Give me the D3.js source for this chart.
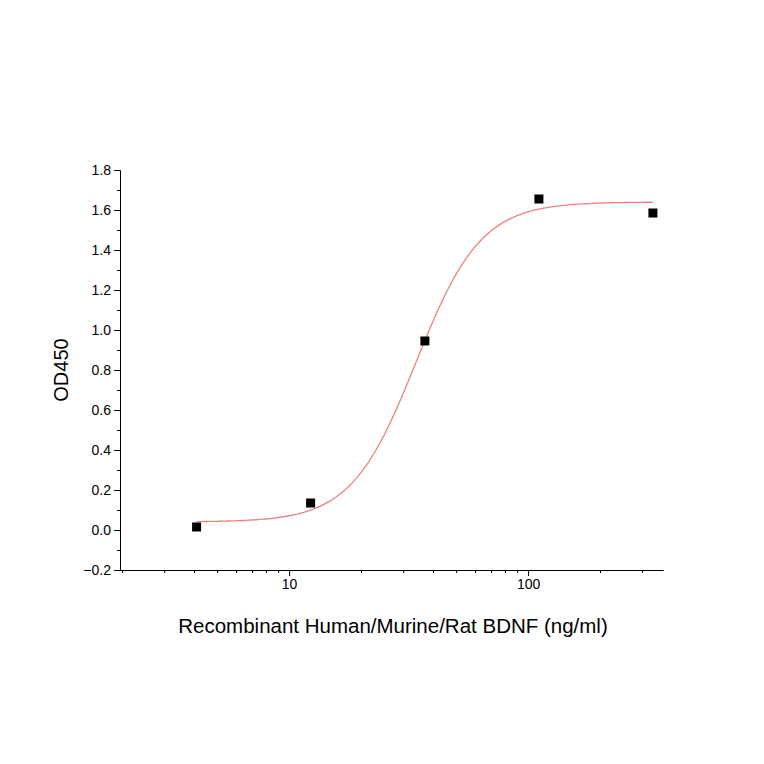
<!DOCTYPE html><html><head><meta charset="utf-8"><script src="https://cdn.jsdelivr.net/npm/d3@7"></script>
<style>body{margin:0;background:#fff}text{font-family:Arial,"Liberation Sans",sans-serif}</style></head><body><svg id="c" width="764" height="764"></svg><script>
const xs=[4.1,12.3,37,111,333];
const ys=[0.015,0.135,0.945,1.655,1.585];
const fit={bottom:0.04,top:1.64,ec50:34,hill:3.2};
const xTickVals=[10,100];
const yTickVals=[-0.2,0,0.2,0.4,0.6,0.8,1.0,1.2,1.4,1.6,1.8];
const svg=d3.select("#c");
const x=d3.scaleLog().domain([1.96,367]).range([120,663]);
const y=d3.scaleLinear().domain([-0.2,1.8]).range([570,170]);
const g=svg.append("g");
g.append("g").attr("transform","translate(0,570)").call(d3.axisBottom(x).tickValues(xTickVals).tickFormat(d3.format("d")).tickSize(6).tickSizeOuter(0));
const minors=[];for(let e=0;e<3;e++)for(let k=2;k<10;k++){const v=k*Math.pow(10,e);if(v>1.96&&v<367)minors.push(v);}
g.append("g").attr("transform","translate(0,570)").call(d3.axisBottom(x).tickValues(minors).tickFormat("").tickSize(3).tickSizeOuter(0));
g.append("g").attr("transform","translate(120,0)").call(d3.axisLeft(y).tickValues(yTickVals).tickFormat(d3.format(".1f")).tickSize(6).tickSizeOuter(0));
g.append("g").attr("transform","translate(120,0)").call(d3.axisLeft(y).tickValues(d3.range(-0.1,1.8,0.2)).tickFormat("").tickSize(3).tickSizeOuter(0));
svg.selectAll(".tick text").attr("font-size",14).attr("fill","#000");
svg.selectAll(".domain,.tick line").attr("stroke","#000");
const f=v=>fit.bottom+(fit.top-fit.bottom)/(1+Math.pow(fit.ec50/v,fit.hill));
const cx=d3.range(0,201).map(i=>Math.exp(Math.log(4.1)+i/200*(Math.log(333)-Math.log(4.1))));
svg.append("path").attr("d",d3.line().x(d=>x(d)).y(d=>y(f(d)))(cx)).attr("fill","none").attr("stroke","#f08080").attr("stroke-width",1.3);
svg.selectAll("rect.p").data(xs).join("rect").attr("x",(d)=>x(d)-4.5).attr("y",(d,i)=>y(ys[i])-4.5).attr("width",9).attr("height",9).attr("fill","#000");
svg.append("text").attr("x",393).attr("y",633).attr("text-anchor","middle").attr("font-size",20.5).text("Recombinant Human/Murine/Rat BDNF (ng/ml)");
svg.append("text").attr("transform","translate(68,370) rotate(-90)").attr("text-anchor","middle").attr("font-size",20).text("OD450");
</script></body></html>
